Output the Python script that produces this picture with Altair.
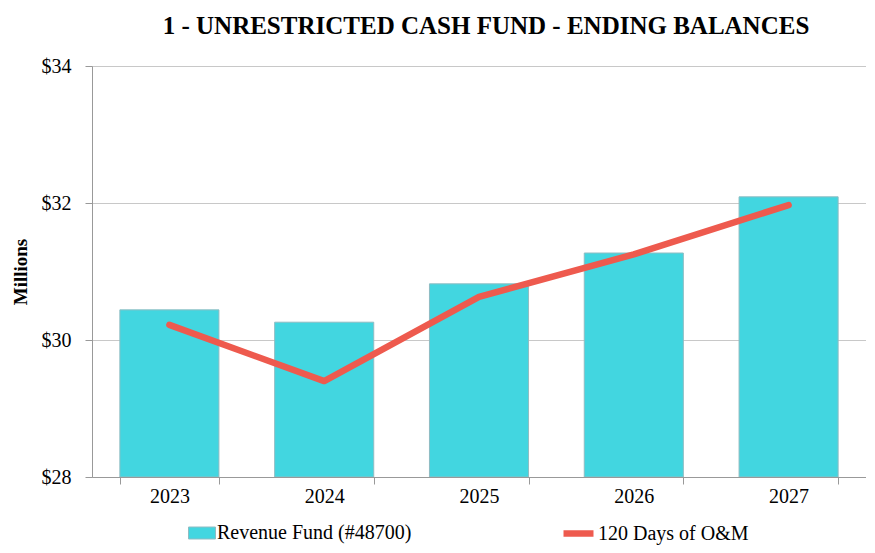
import altair as alt
import pandas as pd

years = ["2023", "2024", "2025", "2026", "2027"]
revenue_fund = [30.44, 30.26, 30.82, 31.27, 32.09]
om_120_days = [30.22, 29.40, 30.63, 31.25, 31.97]
y_ticks = [28, 30, 32, 34]

bar_label = "Revenue Fund (#48700)"
line_label = "120 Days of O&M"

df = pd.DataFrame({
    "year": years,
    "fund": revenue_fund,
    "om": om_120_days,
    "bar_series": [bar_label] * len(years),
    "line_series": [line_label] * len(years),
})

FONT = "Liberation Serif"
BAR_COLOR = "#42D6E0"
BAR_EDGE = "#8fbcc2"
LINE_COLOR = "#EE5A4E"

x_enc = alt.X(
    "year:N",
    sort=years,
    title=None,
    scale=alt.Scale(paddingInner=0.36, paddingOuter=0.18),
    axis=alt.Axis(labelAngle=0, tickBand="extent", grid=False, labelPadding=2),
)

y_scale = alt.Scale(domain=[28, 34], nice=False, zero=False)

bars = alt.Chart(df).mark_bar(stroke=BAR_EDGE, strokeWidth=1, clip=True).encode(
    x=x_enc,
    y=alt.Y(
        "fund:Q",
        scale=y_scale,
        title="Millions",
        axis=alt.Axis(values=y_ticks, format="$,.0f", titlePadding=11, labelPadding=14),
    ),
    y2=alt.datum(28),
    fill=alt.Fill(
        "bar_series:N",
        scale=alt.Scale(domain=[bar_label], range=[BAR_COLOR]),
        legend=alt.Legend(
            title=None, orient="none", legendX=96, legendY=453,
            symbolType="M-1,-0.444H1V0.444H-1Z", symbolSize=729,
            symbolFillColor=BAR_COLOR, symbolStrokeColor=BAR_EDGE,
            symbolStrokeWidth=1, symbolOpacity=1,
            labelFont=FONT, labelFontSize=20, labelColor="black",
            labelOffset=1, labelLimit=0,
        ),
    ),
)

line = alt.Chart(df).mark_line(strokeWidth=6.5, strokeCap="round", strokeJoin="round").encode(
    x=alt.X("year:N", sort=years),
    y=alt.Y("om:Q", scale=y_scale),
    stroke=alt.Stroke(
        "line_series:N",
        scale=alt.Scale(domain=[line_label], range=[LINE_COLOR]),
        legend=alt.Legend(
            title=None, orient="none", legendX=468, legendY=449,
            symbolType="stroke", symbolStrokeWidth=6.5, symbolSize=900,
            labelFont=FONT, labelFontSize=20, labelColor="black",
            labelOffset=1, labelLimit=0,
        ),
    ),
)

chart = alt.layer(bars, line).resolve_scale(fill="independent", stroke="independent").properties(
    width=774,
    height=411,
    title=alt.TitleParams(
        "1 - UNRESTRICTED CASH FUND - ENDING BALANCES",
        font=FONT, fontSize=25, fontWeight="bold", color="black",
        anchor="middle", offset=17, dx=7,
    ),
    autosize=alt.AutoSizeParams(type="none"),
    padding={"left": 84, "top": 58, "right": 0, "bottom": 68},
).configure_view(stroke=None).configure(background="white").configure_axis(
    labelFont=FONT, labelFontSize=20, labelColor="black",
    titleFont=FONT, titleFontSize=19, titleFontWeight="bold", titleColor="black",
    tickSize=7, tickColor="#999999", domainColor="#999999", gridColor="#c8c8c8",
)

chart.save("out.html", embed_options={"renderer": "svg", "actions": False})
